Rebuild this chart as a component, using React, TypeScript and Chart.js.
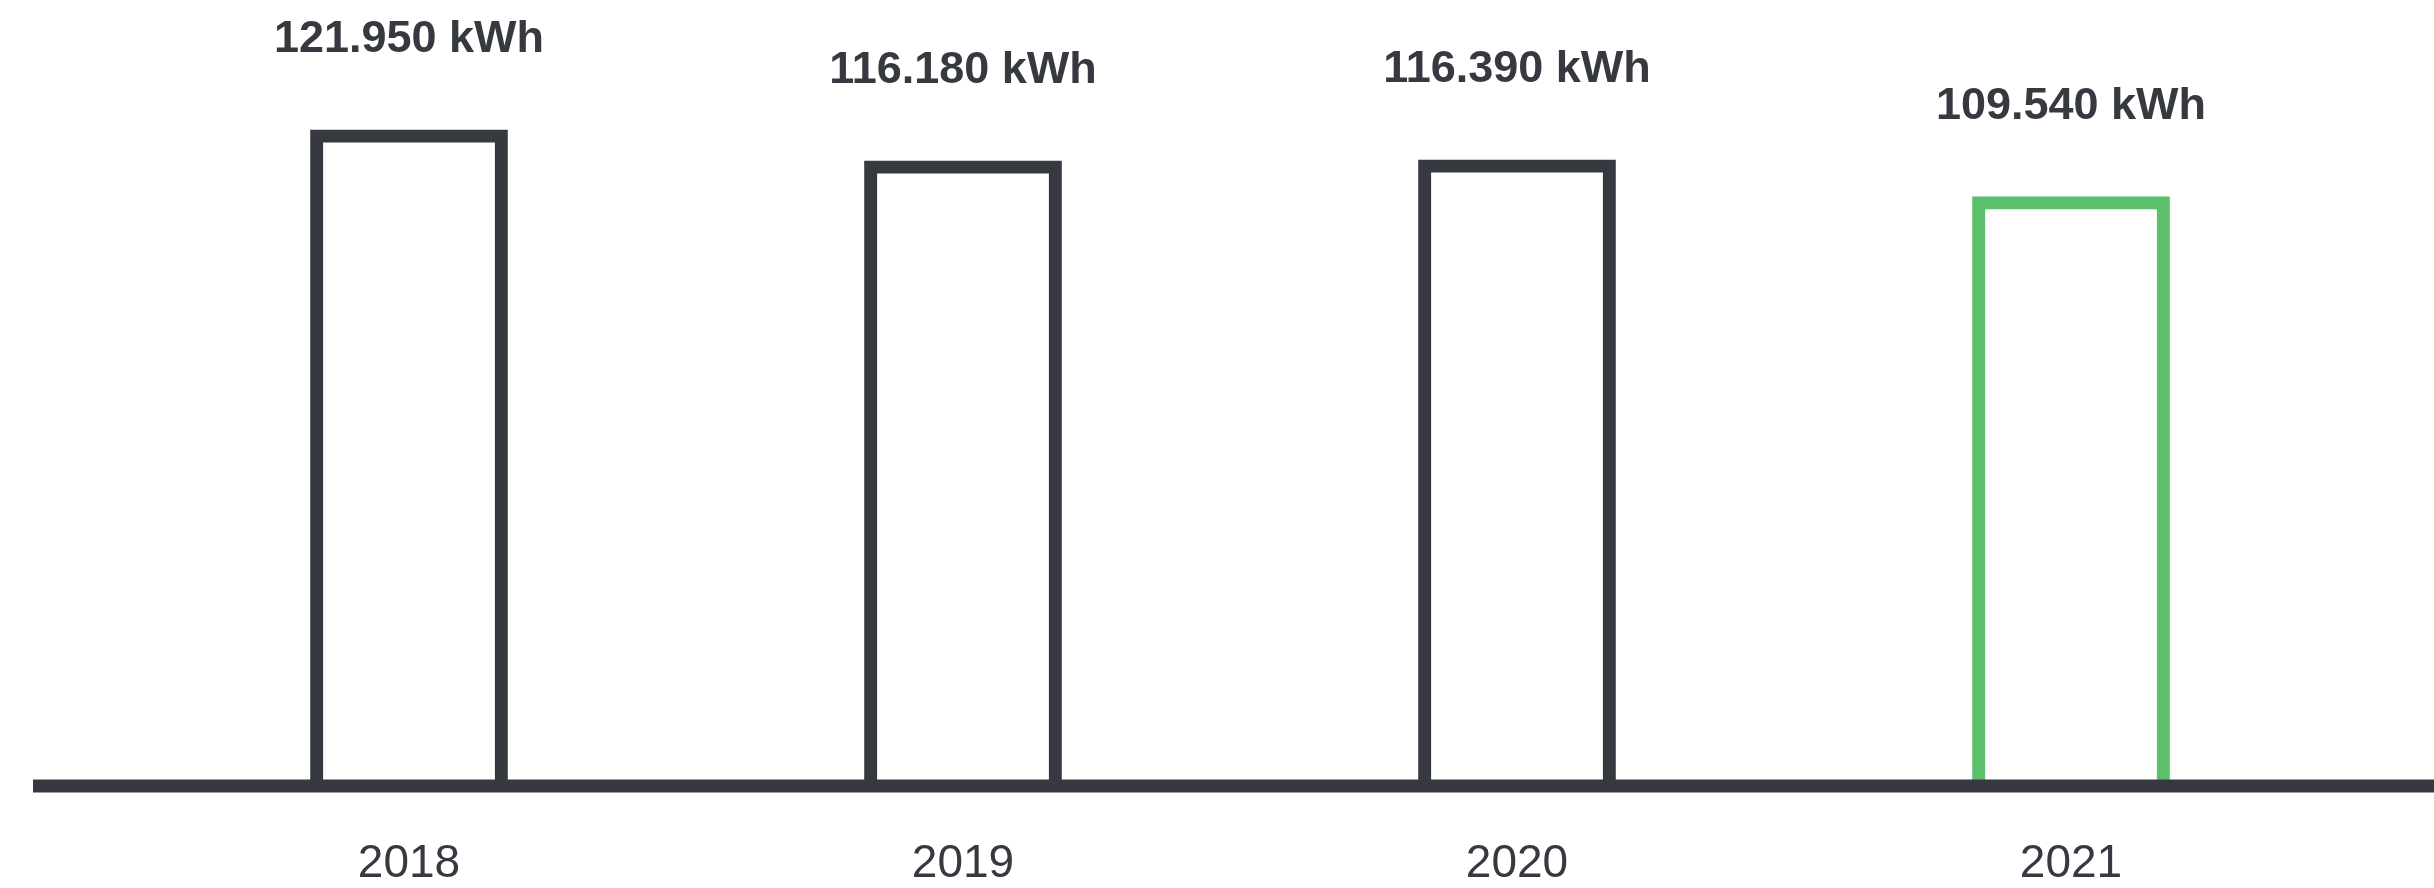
import React, { useEffect, useRef } from "react";
import { Chart, registerables } from "chart.js";

Chart.register(...registerables);

const years: string[] = ["2018", "2019", "2020", "2021"];
const consumption: number[] = [121950, 116180, 116390, 109540];
const barColors: string[] = ["#363a40", "#363a40", "#363a40", "#5cbf6c"];
const unit = "kWh";

const DARK = "#363a40";

const valueLabels = {
  id: "valueLabels",
  afterDatasetsDraw(chart: any) {
    const ctx = chart.ctx;
    const meta = chart.getDatasetMeta(0);
    ctx.save();
    ctx.font = "bold 45px 'Liberation Sans', Arial, sans-serif";
    ctx.fillStyle = DARK;
    ctx.textAlign = "center";
    ctx.textBaseline = "middle";
    meta.data.forEach((bar: any, i: number) => {
      const v = consumption[i].toLocaleString("de-DE");
      ctx.fillText(`${v} ${unit}`, bar.x, bar.y - 90);
    });
    ctx.restore();
  },
};

const baseLine = {
  id: "baseLine",
  afterDatasetsDraw(chart: any) {
    const ctx = chart.ctx;
    const y = chart.scales.y.getPixelForValue(0);
    ctx.save();
    ctx.strokeStyle = DARK;
    ctx.lineWidth = 13;
    ctx.beginPath();
    ctx.moveTo(chart.chartArea.left - 99, y);
    ctx.lineTo(chart.width, y);
    ctx.stroke();
    ctx.restore();
  },
};

export default function App() {
  const ref = useRef<HTMLCanvasElement | null>(null);

  useEffect(() => {
    document.body.style.margin = "0";
    document.body.style.overflow = "hidden";
    if (!ref.current) return;
    const chart = new Chart(ref.current, {
      type: "bar",
      data: {
        labels: years,
        datasets: [
          {
            data: consumption,
            backgroundColor: "rgba(0,0,0,0)",
            borderColor: barColors,
            borderWidth: 13,
            borderSkipped: "start",
            barPercentage: 0.357,
            categoryPercentage: 1,
          },
        ],
      },
      options: {
        responsive: true,
        maintainAspectRatio: false,
        animation: false,
        layout: { padding: { left: 132, right: 86, top: 0, bottom: 0 } },
        plugins: {
          legend: { display: false },
          tooltip: { enabled: false },
          title: { display: false },
        },
        scales: {
          x: {
            grid: { display: false, drawTicks: false },
            border: { display: false },
            ticks: {
              color: DARK,
              font: { family: "'Liberation Sans', Arial, sans-serif", size: 46 },
              padding: 51,
            },
            afterFit(scale: any) {
              scale.height = 102;
            },
          },
          y: {
            display: false,
            min: 0,
            max: 146000,
          },
        },
      },
      plugins: [baseLine, valueLabels],
    });
    return () => chart.destroy();
  }, []);

  return (
    <div style={{ width: 2434, height: 888, position: "relative" }}>
      <canvas ref={ref} />
    </div>
  );
}
